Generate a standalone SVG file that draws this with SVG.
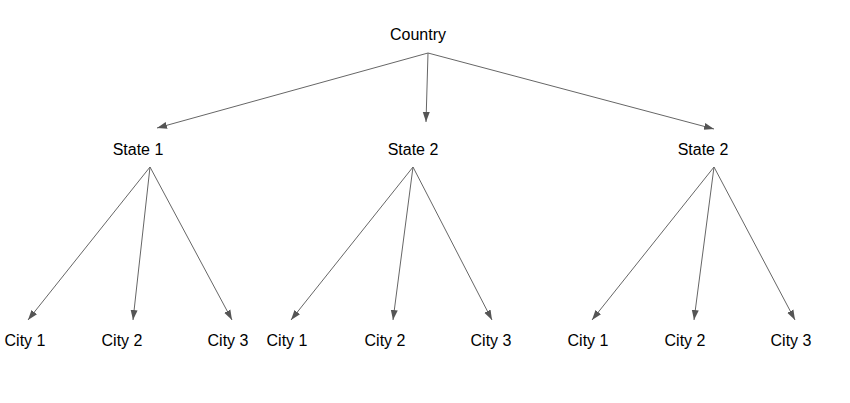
<svg xmlns="http://www.w3.org/2000/svg" width="850" height="403" viewBox="0 0 850 403">
<style>
text{font-family:"Liberation Sans",Arial,sans-serif;font-size:16px;fill:#000;text-anchor:middle}
.c line{stroke:#666;stroke-width:1;marker-end:url(#a)}
</style>
<defs>
<marker id="a" viewBox="0 0 10 10" refX="10" refY="5" markerWidth="10" markerHeight="10" markerUnits="userSpaceOnUse" orient="auto">
<path d="M0,1.5 L10,5 L0,8.5 Z" fill="#555"/>
</marker>
</defs>
<rect width="850" height="403" fill="#fff"/>
<g class="c" id="connectors">
<line x1="428" y1="53" x2="157" y2="128"/>
<line x1="428" y1="53" x2="426" y2="122"/>
<line x1="428" y1="53" x2="714" y2="129"/>
<line x1="150" y1="167" x2="28" y2="320"/>
<line x1="150" y1="167" x2="133" y2="320"/>
<line x1="150" y1="167" x2="232" y2="320"/>
<line x1="413" y1="167" x2="291" y2="320"/>
<line x1="413" y1="167" x2="393" y2="320"/>
<line x1="413" y1="167" x2="492" y2="320"/>
<line x1="714" y1="167" x2="592" y2="320"/>
<line x1="714" y1="167" x2="694" y2="320"/>
<line x1="714" y1="167" x2="795" y2="320"/>
</g>
<g id="country"><text x="418" y="40">Country</text></g>
<g id="state1"><text x="138" y="155">State 1</text></g>
<g id="state2a"><text x="413" y="155">State 2</text></g>
<g id="state2b"><text x="703" y="155">State 2</text></g>
<g id="city1a"><text x="25" y="346">City 1</text></g>
<g id="city2a"><text x="122" y="346">City 2</text></g>
<g id="city3a"><text x="228" y="346">City 3</text></g>
<g id="city1b"><text x="287" y="346">City 1</text></g>
<g id="city2b"><text x="385" y="346">City 2</text></g>
<g id="city3b"><text x="491" y="346">City 3</text></g>
<g id="city1c"><text x="588" y="346">City 1</text></g>
<g id="city2c"><text x="685" y="346">City 2</text></g>
<g id="city3c"><text x="791" y="346">City 3</text></g>
</svg>
